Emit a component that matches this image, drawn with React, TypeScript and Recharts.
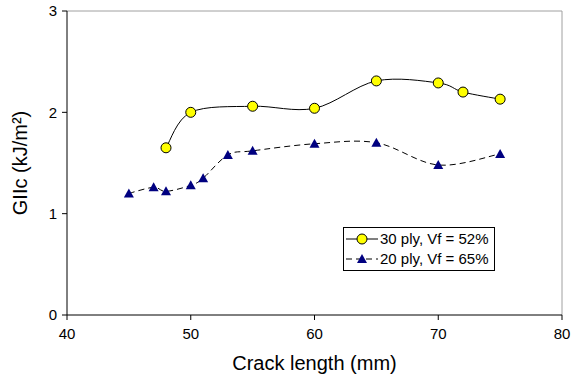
import React from 'react';
import { LineChart, Line, XAxis, YAxis, ReferenceLine } from 'recharts';

// crack length (mm) and GIIc (kJ/m²)
const ply30X = [48, 50, 55, 60, 65, 70, 72, 75];
const ply30Y = [1.65, 2.0, 2.06, 2.04, 2.31, 2.29, 2.2, 2.13];
const ply20X = [45, 47, 48, 50, 51, 53, 55, 60, 65, 70, 75];
const ply20Y = [1.2, 1.26, 1.22, 1.28, 1.35, 1.58, 1.62, 1.69, 1.7, 1.48, 1.59];
const xTicks = [40, 50, 60, 70, 80];
const yTicks = [0, 1, 2, 3];

const ply30 = ply30X.map((x, i) => ({ x, y: ply30Y[i] }));
const ply20 = ply20X.map((x, i) => ({ x, y: ply20Y[i] }));

const FONT = 'Liberation Sans, Arial, sans-serif';

// Excel-style smoothed line (Catmull-Rom through the points)
const smooth = (context: any) => {
  let pts: number[][] = [];
  return {
    areaStart() {},
    areaEnd() {},
    lineStart() {
      pts = [];
    },
    point(x: number, y: number) {
      pts.push([+x, +y]);
    },
    lineEnd() {
      if (!pts.length) return;
      context.moveTo(pts[0][0], pts[0][1]);
      for (let i = 0; i < pts.length - 1; i++) {
        const p0 = pts[i - 1] || pts[i];
        const p1 = pts[i];
        const p2 = pts[i + 1];
        const p3 = pts[i + 2] || p2;
        context.bezierCurveTo(
          p1[0] + (p2[0] - p0[0]) / 6,
          p1[1] + (p2[1] - p0[1]) / 6,
          p2[0] - (p3[0] - p1[0]) / 6,
          p2[1] - (p3[1] - p1[1]) / 6,
          p2[0],
          p2[1]
        );
      }
    },
  };
};

const Circle = (props: any) => {
  const { cx, cy } = props;
  if (cx == null || cy == null) return null;
  return <circle cx={cx} cy={cy} r={5} fill="#ffff00" stroke="#000" strokeWidth={1} />;
};

const Triangle = (props: any) => {
  const { cx, cy } = props;
  if (cx == null || cy == null) return null;
  return (
    <path
      d={`M${cx},${cy - 5}L${cx + 5},${cy + 4}L${cx - 5},${cy + 4}Z`}
      fill="#000080"
    />
  );
};

const LegendBox = () => (
  <div
    style={{
      position: 'absolute',
      left: 343,
      top: 227,
      border: '1px solid #000',
      background: '#fff',
      fontFamily: FONT,
      fontSize: 15,
      padding: '1px 5px 1px 1px',
      lineHeight: '20px',
    }}
  >
    <div style={{ display: 'flex', alignItems: 'center' }}>
      <svg width={35} height={20}>
        <line x1={1} y1={10} x2={33} y2={10} stroke="#000" />
        <circle cx={17} cy={10} r={5} fill="#ffff00" stroke="#000" />
      </svg>
      <span>30 ply, Vf = 52%</span>
    </div>
    <div style={{ display: 'flex', alignItems: 'center' }}>
      <svg width={35} height={20}>
        <line x1={1} y1={10} x2={33} y2={10} stroke="#000" strokeDasharray="6 4" />
        <path d="M17,5L22,14L12,14Z" fill="#000080" />
      </svg>
      <span>20 ply, Vf = 65%</span>
    </div>
  </div>
);

export default function App() {
  return (
    <div style={{ position: 'absolute', left: 0, top: 0, width: 584, height: 382, background: '#fff' }}>
      <LineChart width={584} height={382} margin={{ top: 11, right: 22, left: 0, bottom: 0 }}>
        <XAxis
          type="number"
          dataKey="x"
          domain={[40, 80]}
          ticks={xTicks}
          allowDuplicatedCategory={false}
          height={67}
          tickSize={5}
          tickMargin={8}
          stroke="#000"
          tick={{ fill: '#000', fontSize: 15, fontFamily: FONT }}
          label={{
            value: 'Crack length (mm)',
            position: 'insideBottom',
            offset: 12,
            style: { fill: '#000', fontSize: 20, fontFamily: FONT },
          }}
        />
        <YAxis
          type="number"
          dataKey="y"
          domain={[0, 3]}
          ticks={yTicks}
          width={67}
          tickSize={5}
          tickMargin={5}
          stroke="#000"
          tick={{ fill: '#000', fontSize: 15, fontFamily: FONT }}
          label={{
            value: 'GIIc (kJ/m²)',
            angle: -90,
            position: 'insideLeft',
            offset: 20,
            style: { textAnchor: 'middle', fill: '#000', fontSize: 20, fontFamily: FONT },
          }}
        />
        <ReferenceLine y={3} stroke="#a0a0a0" />
        <ReferenceLine x={80} stroke="#a0a0a0" />
        <Line
          data={ply30}
          dataKey="y"
          type={smooth as any}
          stroke="#000"
          strokeWidth={1}
          dot={<Circle />}
          activeDot={false}
          isAnimationActive={false}
        />
        <Line
          data={ply20}
          dataKey="y"
          type={smooth as any}
          stroke="#000"
          strokeWidth={1}
          strokeDasharray="6 4"
          dot={<Triangle />}
          activeDot={false}
          isAnimationActive={false}
        />
      </LineChart>
      <LegendBox />
    </div>
  );
}
